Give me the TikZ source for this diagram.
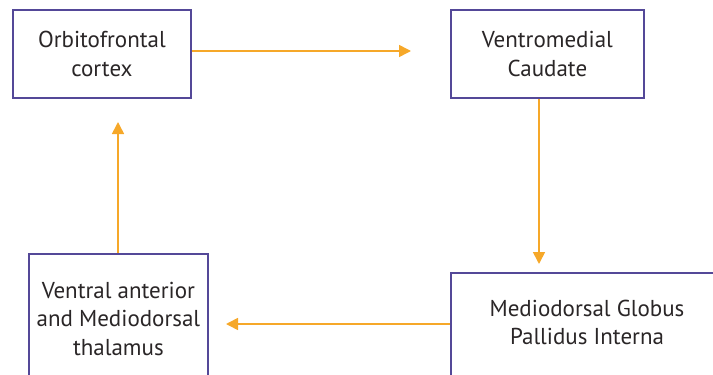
\documentclass[tikz,border=0pt]{standalone}
\usepackage{fontspec}
\setmainfont{PT Sans}
\usetikzlibrary{arrows.meta}
\definecolor{boxline}{HTML}{544898}
\definecolor{flow}{HTML}{F6A829}
\definecolor{ink}{HTML}{2A2627}
\tikzset{
  region/.style={draw=boxline, line width=1.8pt, fill=white, rectangle, inner sep=0pt},
  label text/.style={text=ink, align=center, font=\fontsize{23}{28.5}\selectfont},
  flowarrow/.style={draw=flow, line width=1.6pt, -{Triangle[width=12pt,length=12pt]}}
}
\begin{document}
\begin{tikzpicture}[x=1pt,y=-1pt]
  \useasboundingbox (0,0) rectangle (713,375);
  % cortical and striatal regions
  \node[region, label text, minimum width=178pt, minimum height=88pt, anchor=north west]
    (ofc) at (12,9) {Orbitofrontal\\cortex};
  \node[region, label text, minimum width=193pt, minimum height=88pt, anchor=north west]
    (vmc) at (450,9) {Ventromedial\\Caudate};
  % thalamus box, running past the lower edge
  \node[region, label text, minimum width=179pt, minimum height=130pt, anchor=north west]
    (thal) at (28,253) {Ventral anterior\\and Mediodorsal\\thalamus};
  % pallidum box, running past the lower and right edges
  \node[region, minimum width=266pt, minimum height=120pt, anchor=north west]
    (gpi) at (450,272) {};
  \node[label text] (gpitext) at (587,322.5) {Mediodorsal Globus\\Pallidus Interna};
  % loop connections
  \coordinate (ofcR) at (ofc.east |- 0,51);
  \coordinate (tipA) at (411,51);
  \draw[flowarrow] (ofcR) -- (tipA);
  \coordinate (vmcB) at (539,0 |- vmc.south);
  \coordinate (tipB) at (539,264);
  \draw[flowarrow] (vmcB) -- (tipB);
  \coordinate (gpiL) at (gpi.west |- 0,324);
  \coordinate (tipC) at (226,324);
  \draw[flowarrow] (gpiL) -- (tipC);
  \coordinate (thalT) at (118,0 |- thal.north);
  \coordinate (tipD) at (118,122);
  \draw[flowarrow] (thalT) -- (tipD);
\end{tikzpicture}
\end{document}
